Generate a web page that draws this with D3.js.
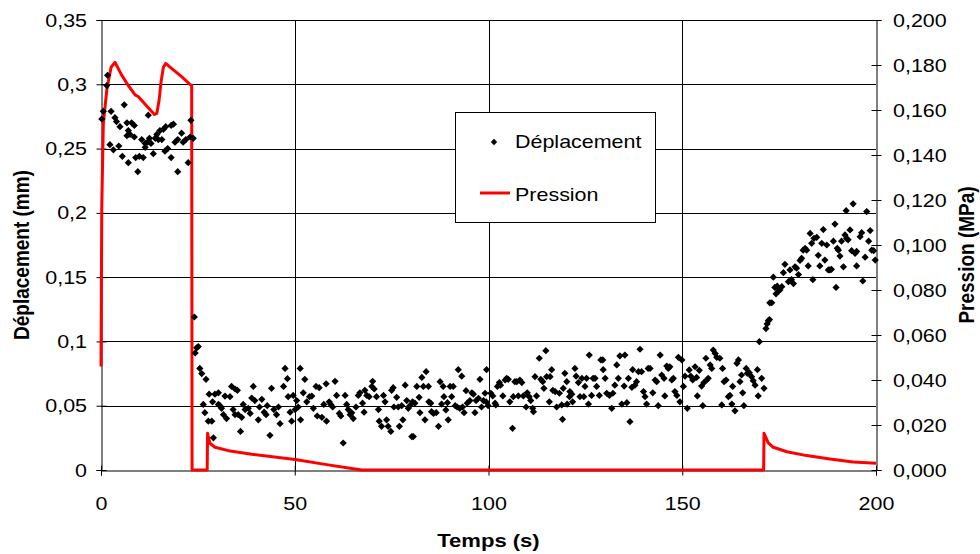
<!DOCTYPE html>
<html>
<head>
<meta charset="utf-8">
<script src="https://cdn.jsdelivr.net/npm/d3@7"></script>
<style>
  body { margin: 0; background: #fff; }
  svg { display: block; }
</style>
</head>
<body>
<div id="chart"></div>
<script>
// Déplacement (mm) vs time (s), split by test phase
const deplLoading = [[0.2,0.273],[0.6,0.279],[1.5,0.299],[1.7,0.307],[2.3,0.253],[2.6,0.279],[3.2,0.249],[3.6,0.274],[4.0,0.271],[4.6,0.252],[4.9,0.267],[5.5,0.244],[6.0,0.284],[6.7,0.270],[6.7,0.260],[7.05,0.264],[7.05,0.239],[7.5,0.261],[7.9,0.270],[8.6,0.268],[8.6,0.259],[8.95,0.243],[9.5,0.232],[9.9,0.244],[10.5,0.257],[10.9,0.243],[11.4,0.254],[11.4,0.251],[12.0,0.255],[12.2,0.276],[12.5,0.258],[12.9,0.254],[13.5,0.246],[14.0,0.258],[14.4,0.261],[14.8,0.257],[15.2,0.264],[15.7,0.257],[16.1,0.265],[16.5,0.248],[16.7,0.267],[17.2,0.250],[18.1,0.268],[18.1,0.243],[18.7,0.269],[19.1,0.255],[19.8,0.257],[19.8,0.232],[20.8,0.262],[21.2,0.255],[21.9,0.257],[22.5,0.239],[23.0,0.259],[23.2,0.272],[23.8,0.258]];

const deplRest1 = [[24.1,0.119],[24.3,0.091],[24.7,0.095],[25.1,0.096],[25.5,0.079],[26.0,0.075],[26.4,0.051],[26.8,0.0446],[27.1,0.0705],[27.7,0.038],[27.9,0.059],[28.6,0.038],[28.8,0.053],[29.0,0.025],[29.4,0.059],[30.3,0.060],[30.3,0.051],[30.7,0.050],[31.1,0.048],[31.6,0.043],[32.0,0.0575],[32.4,0.040],[33.3,0.057],[33.7,0.065],[34.1,0.047],[34.6,0.063],[34.6,0.043],[35.2,0.062],[35.4,0.043],[36.0,0.030],[36.3,0.041],[36.7,0.051],[37.2,0.047],[38.0,0.048],[38.5,0.044],[38.9,0.056],[39.3,0.065],[39.7,0.054],[40.6,0.039],[40.9,0.049],[41.5,0.055],[42.1,0.045],[42.6,0.043],[42.9,0.050],[43.6,0.027],[44.0,0.0635],[44.6,0.047],[45.3,0.043],[45.8,0.049],[46.2,0.036],[47.1,0.065],[47.5,0.079],[48.1,0.071],[48.3,0.057],[48.8,0.045],[49.2,0.038],[49.6,0.058],[50.1,0.047],[50.5,0.054],[50.9,0.049],[51.4,0.079],[51.5,0.039],[52.2,0.060],[52.6,0.0705],[53.1,0.053],[53.8,0.057],[54.4,0.0575],[54.8,0.048],[55.5,0.065],[55.8,0.042],[56.3,0.064],[57.0,0.041],[57.5,0.051],[58.1,0.067],[58.2,0.038],[58.9,0.053],[59.3,0.051],[59.8,0.049],[60.4,0.069],[60.8,0.058],[61.5,0.044],[61.9,0.042],[62.5,0.021],[63.0,0.058],[63.4,0.051],[63.8,0.047],[64.3,0.043],[64.7,0.0445],[65.1,0.040],[65.8,0.049],[66.4,0.058],[66.8,0.060],[67.5,0.052],[67.9,0.045],[68.1,0.062],[68.6,0.058],[69.2,0.057],[69.9,0.065],[70.1,0.069],[70.5,0.063],[71.1,0.057],[71.6,0.047],[71.8,0.038]];

const deplRest2 = [[72.4,0.034],[72.9,0.058],[73.3,0.053],[73.7,0.039],[74.1,0.034],[74.8,0.030],[75.0,0.062],[75.4,0.064],[75.6,0.049],[76.3,0.0565],[76.7,0.049],[77.0,0.034],[77.6,0.050],[77.9,0.039],[78.5,0.066],[78.9,0.054],[79.3,0.048],[79.7,0.050],[80.2,0.026],[80.4,0.053],[80.6,0.026],[81.0,0.052],[81.5,0.065],[82.1,0.0565],[82.3,0.0446],[82.8,0.072],[83.2,0.065],[83.6,0.039],[83.9,0.0765],[84.5,0.065],[84.6,0.053],[85.1,0.052],[85.3,0.0454],[85.8,0.044],[86.5,0.0446],[87.1,0.034],[87.5,0.0687],[87.9,0.0513],[88.3,0.065],[88.5,0.057],[89.0,0.0467],[89.4,0.0524],[89.6,0.039],[90.1,0.065],[90.5,0.057],[90.9,0.065],[91.4,0.050],[91.9,0.049],[92.2,0.078],[92.6,0.048],[93.1,0.073],[93.3,0.049],[93.7,0.0446],[94.2,0.0617],[94.5,0.052],[95.2,0.054],[95.7,0.060],[96.1,0.059],[96.5,0.0446],[96.8,0.054],[97.4,0.0558],[97.8,0.0705],[98.2,0.049],[98.7,0.054],[99.1,0.0597],[99.4,0.053],[99.5,0.078],[99.9,0.050],[100.6,0.0597],[101.1,0.0576],[101.7,0.052],[101.9,0.0506],[102.3,0.065],[102.8,0.068],[103.1,0.066],[103.7,0.0576],[104.3,0.070],[104.7,0.0713],[105.1,0.0705],[105.5,0.053],[106.2,0.0324],[106.4,0.057],[106.8,0.0687],[107.3,0.0687],[107.7,0.0576],[108.1,0.070],[108.6,0.068],[109.0,0.0576],[109.7,0.049],[110.0,0.060],[110.5,0.057],[110.9,0.054],[111.4,0.048],[111.6,0.0454],[112.0,0.0726],[112.4,0.0576],[113.1,0.0869],[113.5,0.0705],[114.0,0.0687],[114.3,0.0635],[114.8,0.0928],[115.0,0.0726],[115.7,0.053],[115.9,0.0726],[116.3,0.078],[116.6,0.062],[117.2,0.061],[117.6,0.049],[118.3,0.0597]];

const deplRest3 = [[118.9,0.0506],[119.1,0.0394],[119.3,0.0635],[119.7,0.0752],[120.2,0.0687],[120.3,0.0513],[120.9,0.057],[121.0,0.061],[121.5,0.059],[121.7,0.053],[122.3,0.079],[122.6,0.073],[123.2,0.068],[123.6,0.057],[124.1,0.0713],[124.6,0.057],[124.9,0.065],[125.3,0.0713],[125.8,0.0513],[126.0,0.0894],[126.6,0.058],[127.0,0.0713],[127.5,0.0713],[127.9,0.065],[128.6,0.058],[129.0,0.0856],[129.5,0.0856],[129.6,0.078],[130.1,0.0713],[130.5,0.0597],[131.2,0.058],[131.8,0.048],[132.1,0.0597],[132.6,0.066],[133.1,0.0817],[133.5,0.0713],[133.9,0.0887],[134.4,0.0513],[135.0,0.0653],[135.2,0.0894],[135.7,0.0524],[136.1,0.0713],[136.5,0.0376],[137.0,0.0643],[137.2,0.078],[137.8,0.066],[138.2,0.0687],[138.7,0.0765],[139.1,0.0939],[139.5,0.0765],[140.0,0.061],[140.4,0.057],[140.8,0.0513],[141.2,0.079],[141.7,0.079],[142.4,0.060],[143.0,0.070],[143.4,0.0687],[143.8,0.050],[144.3,0.0894],[144.7,0.0739],[145.3,0.0713],[145.5,0.0576],[146.0,0.0809],[146.4,0.079],[146.8,0.0803],[147.3,0.070],[147.7,0.0713],[148.1,0.061],[148.6,0.058],[149.0,0.0876],[149.4,0.053],[149.9,0.0856],[150.3,0.065],[150.7,0.073],[151.3,0.048],[151.8,0.0778],[152.2,0.073],[152.7,0.070],[153.3,0.0803],[153.7,0.072],[153.9,0.0576],[154.4,0.0775],[155.0,0.0653],[155.3,0.050],[155.6,0.068],[156.1,0.0869],[156.3,0.070],[156.7,0.0713],[157.2,0.0817],[157.6,0.079],[158.0,0.0933],[158.5,0.0907],[158.9,0.0876],[159.7,0.0869],[160.2,0.0506],[160.4,0.079],[160.8,0.0687],[161.3,0.070],[161.9,0.057],[162.3,0.058],[162.8,0.0513],[163.0,0.065],[163.6,0.046],[164.1,0.083],[164.5,0.0856],[164.9,0.0687],[165.3,0.0739],[165.6,0.060],[165.9,0.050],[166.5,0.079],[166.8,0.0752],[167.3,0.0757],[167.9,0.0726],[168.3,0.0695],[168.8,0.066],[169.4,0.078],[169.6,0.0576],[169.9,0.0998],[170.5,0.0713],[171.1,0.0635]];

const deplReload = [[171.6,0.110],[171.9,0.1136],[172.2,0.116],[172.5,0.117],[172.6,0.130],[173.1,0.1301],[173.5,0.150],[173.9,0.142],[174.2,0.137],[174.5,0.143],[174.8,0.139],[175.0,0.141],[175.2,0.140],[175.7,0.1426],[176.1,0.1535],[176.5,0.160],[177.4,0.1465],[177.8,0.1556],[178.2,0.148],[178.7,0.145],[179.1,0.158],[179.5,0.157],[180.0,0.152],[180.4,0.163],[180.8,0.1646],[181.2,0.171],[181.7,0.1724],[182.1,0.171],[182.5,0.1587],[183.0,0.184],[183.4,0.1763],[183.7,0.148],[184.0,0.1802],[184.7,0.181],[185.1,0.167],[185.5,0.1587],[186.0,0.1763],[186.4,0.187],[186.8,0.1633],[187.3,0.175],[187.7,0.1556],[188.1,0.1556],[188.5,0.1561],[189.0,0.178],[189.4,0.1913],[189.7,0.142],[190.0,0.1724],[190.3,0.171],[190.7,0.1664],[191.1,0.178],[191.6,0.158],[192.0,0.1828],[192.3,0.2017],[192.4,0.1802],[192.8,0.179],[193.3,0.1867],[193.7,0.1706],[194.1,0.207],[194.6,0.1685],[195.0,0.170],[195.0,0.1587],[195.9,0.1815],[196.3,0.1846],[196.6,0.147],[197.2,0.1655],[197.6,0.201],[198.1,0.178],[198.5,0.1862],[198.9,0.171],[199.4,0.1706],[199.8,0.1633]];

// Pression (MPa) vs time (s)
const pression = [[0,0.046],[0.2,0.117],[0.6,0.154],[1.5,0.169],[2.6,0.179],[3.6,0.1812],[5.3,0.1756],[7.0,0.171],[8.8,0.1667],[9.6,0.166],[12.2,0.161],[13.8,0.158],[14.4,0.1585],[15.0,0.1644],[15.5,0.1726],[16.1,0.179],[16.7,0.1807],[18.2,0.1785],[20.8,0.1748],[23.2,0.171],[23.4,0.171],[23.5,0],[27.4,0],[27.5,0.0163],[28.1,0.0119],[29.4,0.0101],[32.9,0.0086],[38.9,0.0070],[50.1,0.0047],[57.8,0.0025],[64.7,0.0007],[67.3,0],[171.0,0],[171.1,0.0163],[172.2,0.0121],[173.5,0.0101],[177.0,0.0081],[182.1,0.0064],[188.1,0.0049],[194.1,0.0036],[200,0.003]];

const xTicks = [0, 50, 100, 150, 200];
const yLeftTicks = [0, 0.05, 0.1, 0.15, 0.2, 0.25, 0.3, 0.35];
const yRightTicks = [0, 0.02, 0.04, 0.06, 0.08, 0.1, 0.12, 0.14, 0.16, 0.18, 0.2];

const deplacement = [].concat(deplLoading, deplRest1, deplRest2, deplRest3, deplReload);

const width = 980, height = 554;
const marginLeft = 101, marginTop = 20, marginRight = 104, marginBottom = 84;
const innerWidth = width - marginLeft - marginRight;
const innerHeight = height - marginTop - marginBottom;
const fontFamily = '"Liberation Sans", Arial, sans-serif';
const tickSize = 18.5;
const titleSize = 19;
const stretch = 1.16;   // the original picture is wider than tall, text is stretched sideways

// widen a horizontal text by the stretch factor
function widen(selection) {
  selection.each(function () {
    let w = this.getComputedTextLength();
    d3.select(this).attr('textLength', w * stretch).attr('lengthAdjust', 'spacingAndGlyphs');
  });
}

const svg = d3.select('#chart')
  .append('svg')
  .attr('width', width)
  .attr('height', height)
  .attr('font-family', fontFamily);

const g = svg.append('g')
  .attr('transform', `translate(${marginLeft},${marginTop})`);

const xScale = d3.scaleLinear().domain([0, 200]).range([0, innerWidth]);
const yLeft = d3.scaleLinear().domain([0, 0.35]).range([innerHeight, 0]);
const yRight = d3.scaleLinear().domain([0, 0.2]).range([innerHeight, 0]);

// comma decimals, Excel "general" style
const fmtLeft = d => String(+d.toFixed(2)).replace('.', ',');
const fmtRight = d => d.toFixed(3).replace('.', ',');

// gridlines
g.append('g')
  .selectAll('line')
  .data(yLeftTicks.filter(d => d > 0))
  .join('line')
  .attr('x1', 0).attr('x2', innerWidth)
  .attr('y1', d => Math.round(yLeft(d)) + 0.5)
  .attr('y2', d => Math.round(yLeft(d)) + 0.5)
  .attr('stroke', '#000')
  .attr('stroke-width', 1);

g.append('g')
  .selectAll('line')
  .data(xTicks.filter(d => d > 0 && d < 200))
  .join('line')
  .attr('x1', d => Math.round(xScale(d)) + 0.5)
  .attr('x2', d => Math.round(xScale(d)) + 0.5)
  .attr('y1', 0).attr('y2', innerHeight)
  .attr('stroke', '#000')
  .attr('stroke-width', 1);

// axes, ticks cross the axis line; y labels are written separately
const xAxis = g.append('g')
  .attr('transform', `translate(0,${innerHeight + 0.5})`)
  .call(d3.axisBottom(xScale).tickValues(xTicks).tickSize(5).tickPadding(21).tickFormat(d3.format('d')));
xAxis.selectAll('.tick line').attr('y1', -5).attr('y2', 5);

const leftAxis = g.append('g')
  .attr('transform', 'translate(0.5,0)')
  .call(d3.axisLeft(yLeft).tickValues(yLeftTicks).tickSize(5).tickFormat(''));
leftAxis.selectAll('.tick line').attr('x1', 5).attr('x2', -5);

const rightAxis = g.append('g')
  .attr('transform', `translate(${innerWidth + 0.5},0)`)
  .call(d3.axisRight(yRight).tickValues(yRightTicks).tickSize(5).tickFormat(''));
rightAxis.selectAll('.tick line').attr('x1', -5).attr('x2', 5);

[xAxis, leftAxis, rightAxis].forEach(axis => {
  axis.attr('font-size', tickSize).attr('font-family', fontFamily);
  axis.select('.domain').attr('stroke', '#000');
  axis.selectAll('.tick line').attr('stroke', '#000');
  axis.selectAll('.tick text').attr('fill', '#000').call(widen);
});

g.append('g')
  .selectAll('text')
  .data(yLeftTicks)
  .join('text')
  .attr('x', -14)
  .attr('y', d => yLeft(d) + 6.5)
  .attr('text-anchor', 'end')
  .attr('font-size', tickSize)
  .text(fmtLeft)
  .call(widen);

g.append('g')
  .selectAll('text')
  .data(yRightTicks)
  .join('text')
  .attr('x', innerWidth + 17)
  .attr('y', d => yRight(d) + 6.5)
  .attr('font-size', tickSize)
  .text(fmtRight)
  .call(widen);

// pression line
g.append('path')
  .datum(pression)
  .attr('fill', 'none')
  .attr('stroke', '#ff0000')
  .attr('stroke-width', 3)
  .attr('stroke-linejoin', 'round')
  .attr('d', d3.line()
    .x(d => xScale(d[0]))
    .y(d => yRight(d[1])));

// déplacement markers (diamonds)
const diamond = r => `M0,${-r}L${r},0L0,${r}L${-r},0Z`;
g.append('g')
  .selectAll('path')
  .data(deplacement)
  .join('path')
  .attr('transform', d => `translate(${xScale(d[0])},${yLeft(d[1])})`)
  .attr('d', diamond(3.6))
  .attr('fill', '#000');

// axis titles
svg.append('text')
  .attr('x', marginLeft + innerWidth / 2)
  .attr('y', 547)
  .attr('text-anchor', 'middle')
  .attr('font-size', titleSize)
  .attr('font-weight', 'bold')
  .text('Temps (s)')
  .call(widen);

svg.append('text')
  .attr('transform', `translate(29,${marginTop + innerHeight / 2 + 10}) rotate(-90) scale(1,${stretch})`)
  .attr('text-anchor', 'middle')
  .attr('font-size', titleSize)
  .attr('font-weight', 'bold')
  .text('Déplacement (mm)');

svg.append('text')
  .attr('transform', `translate(974,${marginTop + innerHeight / 2 + 10}) rotate(-90) scale(1,${stretch})`)
  .attr('text-anchor', 'middle')
  .attr('font-size', titleSize)
  .attr('font-weight', 'bold')
  .text('Pression (MPa)');

// legend
const legend = svg.append('g').attr('transform', 'translate(455,112)');
legend.append('rect')
  .attr('x', 0.5).attr('y', 0.5)
  .attr('width', 200).attr('height', 110)
  .attr('fill', '#fff')
  .attr('stroke', '#000');
legend.append('path')
  .attr('transform', 'translate(39,30)')
  .attr('d', diamond(3.2))
  .attr('fill', '#000');
legend.append('text')
  .attr('x', 60).attr('y', 36)
  .attr('font-size', tickSize)
  .text('Déplacement')
  .call(widen);
legend.append('line')
  .attr('x1', 25).attr('x2', 55)
  .attr('y1', 81).attr('y2', 81)
  .attr('stroke', '#ff0000')
  .attr('stroke-width', 3);
legend.append('text')
  .attr('x', 60).attr('y', 89)
  .attr('font-size', tickSize)
  .text('Pression')
  .call(widen);
</script>
</body>
</html>
